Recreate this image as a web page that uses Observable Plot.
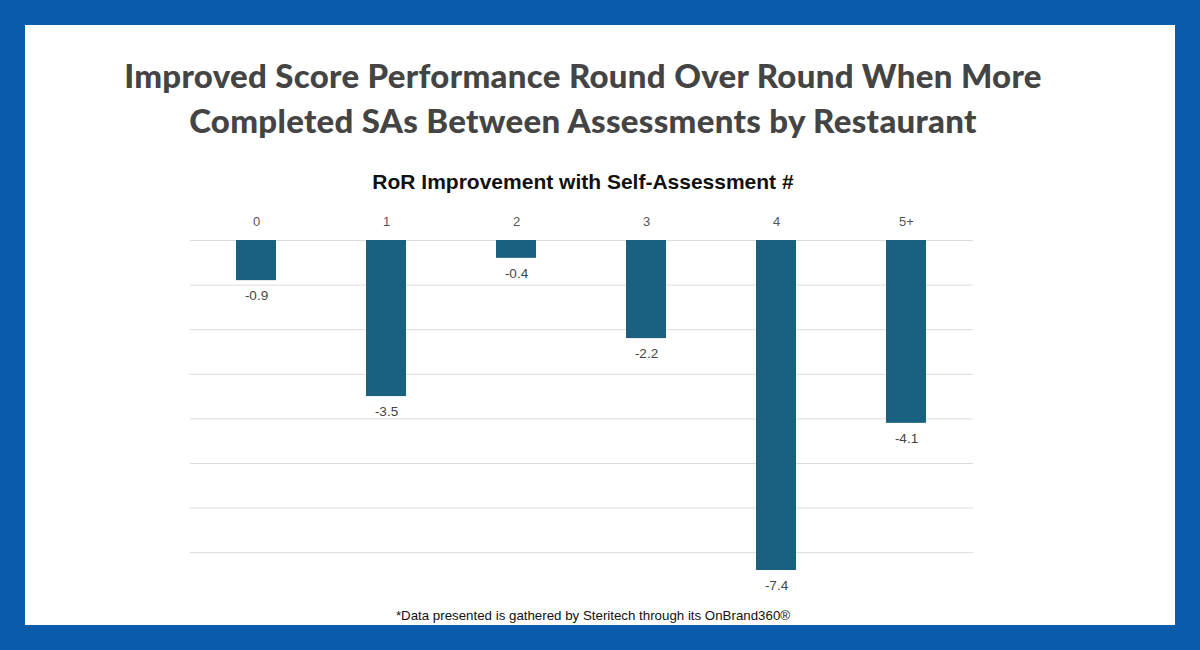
<!DOCTYPE html>
<html><head><meta charset="utf-8">
<script src="https://cdn.jsdelivr.net/npm/d3@7"></script>
<script src="https://cdn.jsdelivr.net/npm/@observablehq/plot@0.6"></script>
<style>
html,body{margin:0;padding:0;width:1200px;height:650px;overflow:hidden;background:#0a5cab;}
#card{position:absolute;left:25px;top:25px;width:1150px;height:600px;background:#fff;}
.t{position:absolute;white-space:nowrap;}
#title{left:0;width:1166px;top:53px;text-align:center;font-family:Lato,sans-serif;font-weight:900;font-size:33px;line-height:45px;color:#444;letter-spacing:0.3px;}
#sub{left:0;width:1166px;top:170px;text-align:center;font-family:"Liberation Sans",Arial,sans-serif;font-weight:bold;font-size:21px;color:#111;}
#foot{left:0;width:1186px;top:608px;text-align:center;font-family:"Liberation Sans",Arial,sans-serif;font-size:13.3px;color:#111;}
#chart{position:absolute;left:0;top:0;}
</style></head>
<body>
<div id="card"></div>
<div class="t" id="title">Improved Score Performance Round Over Round When More<br>Completed SAs Between Assessments by Restaurant</div>
<div class="t" id="sub">RoR Improvement with Self-Assessment #</div>
<div id="chart"></div>
<div class="t" id="foot">*Data presented is gathered by Steritech through its OnBrand360®</div>
<script>
const categories = ["0","1","2","3","4","5+"];
const values = [-0.9, -3.5, -0.4, -2.2, -7.4, -4.1];
const gridTicks = [0,-1,-2,-3,-4,-5,-6,-7];
const labels = ["-0.9","-3.5","-0.4","-2.2","-7.4","-4.1"];

const data = categories.map((c,i)=>({cat:c, value:values[i], label:labels[i]}));

const plot = Plot.plot({
  width: 1200,
  height: 650,
  marginLeft: 190,
  marginRight: 227,
  marginTop: 240,
  marginBottom: 80,
  style: {background:"transparent", overflow:"visible", fontFamily:"'Liberation Sans', Arial, sans-serif"},
  x: {domain: categories, paddingInner: 0.69, paddingOuter: 0.345, axis: null},
  y: {domain: [-7.4, 0], axis: null},
  marks: [
    Plot.ruleY(gridTicks, {stroke:"#dcdcdc", strokeWidth:1}),
    Plot.axisX({anchor:"top", tickSize:0, tickPadding:15, fontSize:13, color:"#555", label:null}),
    Plot.barY(data, {x:"cat", y:"value", fill:"#1a6080"}),
    Plot.text(data, {x:"cat", y:"value", text:"label", dy:15, fontSize:13.5, fill:"#444"})
  ]
});
document.getElementById("chart").appendChild(plot);
</script>
</body></html>
